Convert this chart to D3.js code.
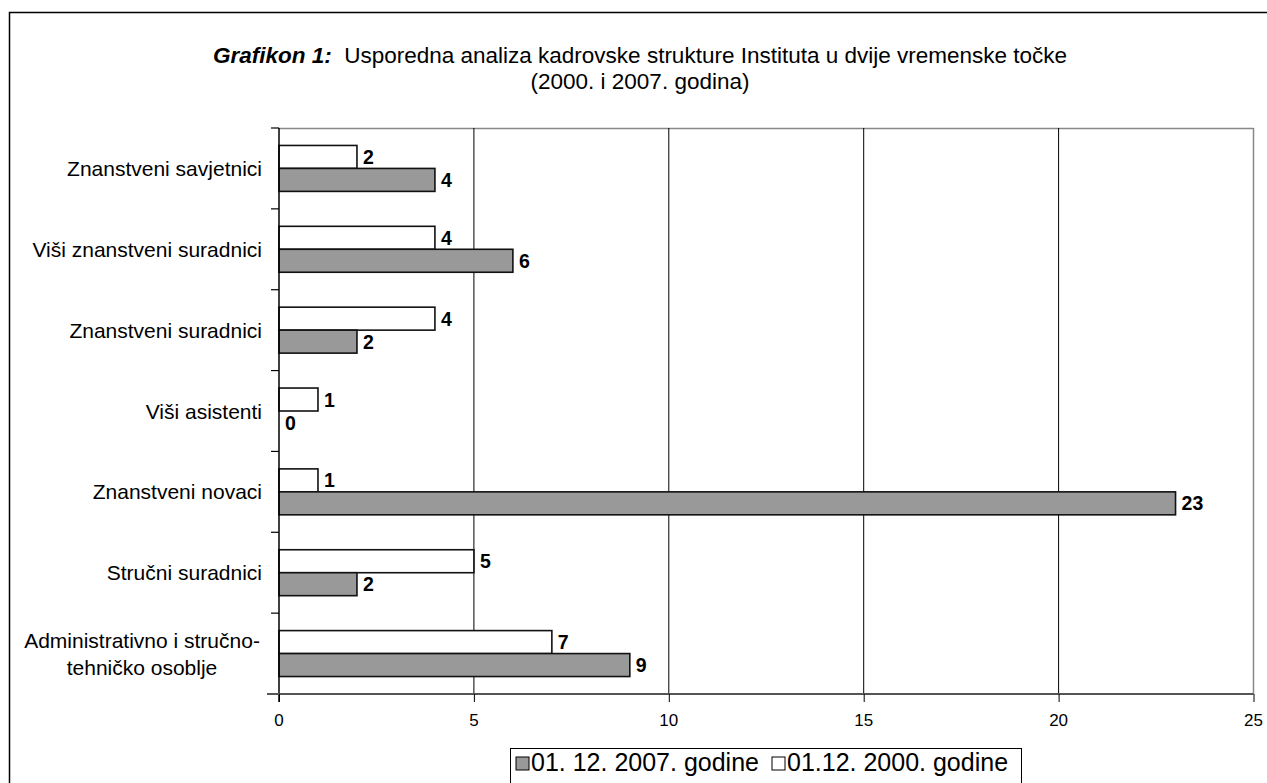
<!DOCTYPE html>
<html><head><meta charset="utf-8">
<script src="https://cdn.jsdelivr.net/npm/d3@7"></script>
<style>
body{margin:0;background:#fff;}
svg{display:block;font-family:"Liberation Sans",Arial,sans-serif;}
</style></head>
<body>
<svg id="chart" width="1267" height="783"></svg>
<script>
const categories = [
  ["Znanstveni savjetnici"],
  ["Viši znanstveni suradnici"],
  ["Znanstveni suradnici"],
  ["Viši asistenti"],
  ["Znanstveni novaci"],
  ["Stručni suradnici"],
  ["Administrativno i stručno-", "tehničko osoblje"]
];
const values2000 = [2, 4, 4, 1, 1, 5, 7];
const values2007 = [4, 6, 2, 0, 23, 2, 9];
const xTicks = [0, 5, 10, 15, 20, 25];
const seriesNames = ["01. 12. 2007. godine", "01.12. 2000. godine"];
const titleBold = "Grafikon 1:";
const titleRest = "  Usporedna analiza kadrovske strukture Instituta u dvije vremenske točke";
const titleLine2 = "(2000. i 2007. godina)";

const svg = d3.select("#chart");
const plot = {left: 279, right: 1253.5, top: 128, bottom: 694};

// outer border
svg.append("rect").attr("x", 9.5).attr("y", 12.5).attr("width", 1300).attr("height", 800)
  .attr("fill", "none").attr("stroke", "#000").attr("stroke-width", 1.5);

// title
const t1 = svg.append("text").attr("x", 640).attr("y", 63).attr("text-anchor", "middle")
  .attr("font-size", 22.5).attr("fill", "#000").attr("xml:space", "preserve");
t1.append("tspan").attr("font-weight", "bold").attr("font-style", "italic").text(titleBold);
t1.append("tspan").text(titleRest);
svg.append("text").attr("x", 640).attr("y", 89).attr("text-anchor", "middle")
  .attr("font-size", 22.5).text(titleLine2);

const x = d3.scaleLinear().domain([0, 25]).range([plot.left, plot.right]);
const y = d3.scaleBand().domain(d3.range(categories.length)).range([plot.top, plot.bottom]).padding(0);
const inner = d3.scaleBand().domain(["2000", "2007"]).range([0, y.step()]).paddingInner(0).paddingOuter(0.76);

// plot border top/right grey
svg.append("line").attr("x1", plot.left).attr("x2", plot.right).attr("y1", plot.top + 0.5).attr("y2", plot.top + 0.5)
  .attr("stroke", "#888").attr("stroke-width", 1.5);
svg.append("line").attr("x1", plot.right).attr("x2", plot.right).attr("y1", plot.top).attr("y2", plot.bottom)
  .attr("stroke", "#888").attr("stroke-width", 1.5);

// gridlines
svg.append("g").selectAll("line").data(xTicks.filter(d => d > 0 && d < 25)).join("line")
  .attr("x1", d => x(d)).attr("x2", d => x(d)).attr("y1", plot.top).attr("y2", plot.bottom)
  .attr("stroke", "#000").attr("stroke-width", 1);

// bars
const g = svg.append("g");
categories.forEach((c, i) => {
  const y0 = y(i);
  const bars = [
    {k: "2000", v: values2000[i], fill: "#fff"},
    {k: "2007", v: values2007[i], fill: "#999999"}
  ];
  bars.forEach(b => {
    const by = y0 + inner(b.k);
    if (b.v > 0) {
      g.append("rect").attr("x", x(0)).attr("y", by).attr("width", x(b.v) - x(0)).attr("height", inner.bandwidth())
        .attr("fill", b.fill).attr("stroke", "#111").attr("stroke-width", 1.6);
    }
    g.append("text").attr("x", x(b.v) + 6).attr("y", by + inner.bandwidth() / 2)
      .attr("dy", "0.36em").attr("font-size", 19.5).attr("font-weight", "bold").text(b.v);
  });
});

// left axis
const yAxis = svg.append("g");
yAxis.append("line").attr("x1", plot.left).attr("x2", plot.left).attr("y1", plot.top).attr("y2", plot.bottom + 8)
  .attr("stroke", "#000").attr("stroke-width", 1.5);
yAxis.selectAll("line.tk").data(d3.range(categories.length + 1)).join("line").attr("class", "tk")
  .attr("x1", plot.left - 8).attr("x2", plot.left)
  .attr("y1", d => plot.top + d * y.step()).attr("y2", d => plot.top + d * y.step())
  .attr("stroke", "#000").attr("stroke-width", 1.2);
categories.forEach((c, i) => {
  const cy = y(i) + y.step() / 2;
  const lh = 27;
  const txt = yAxis.append("text").attr("text-anchor", "middle").attr("font-size", 21);
  c.forEach((line, j) => {
    const ty = cy + (j - (c.length - 1) / 2) * lh;
    if (c.length > 1) {
      txt.append("tspan").attr("x", 142).attr("y", ty).attr("dy", "0.36em").text(line);
    } else {
      txt.append("tspan").attr("x", 262).attr("y", ty).attr("dy", "0.36em").attr("text-anchor", "end").text(line);
    }
  });
});

// bottom axis (ticks via d3 axis, labels drawn explicitly)
const xAxis = d3.axisBottom(x).tickValues(xTicks).tickSize(8).tickFormat(() => "");
const xg = svg.append("g").attr("transform", `translate(0,${plot.bottom})`).call(xAxis);
xg.select(".domain").attr("stroke", "#555").attr("stroke-width", 2.2).attr("d", `M${plot.left - 12},0H${plot.right}`);
xg.selectAll(".tick line").attr("stroke", "#000");
svg.append("g").selectAll("text").data(xTicks).join("text")
  .attr("x", d => x(d)).attr("y", plot.bottom + 32).attr("text-anchor", "middle")
  .attr("font-size", 17).attr("fill", "#000").text(d => d);

// legend
const lg = svg.append("g");
lg.append("rect").attr("x", 510.5).attr("y", 748.5).attr("width", 511).attr("height", 50)
  .attr("fill", "#fff").attr("stroke", "#000").attr("stroke-width", 1);
const legendItems = [
  {name: seriesNames[0], fill: "#999999", x: 516},
  {name: seriesNames[1], fill: "#fff", x: 772}
];
legendItems.forEach(it => {
  lg.append("rect").attr("x", it.x).attr("y", 757).attr("width", 13).attr("height", 13)
    .attr("fill", it.fill).attr("stroke", "#000").attr("stroke-width", 1);
  lg.append("text").attr("x", it.x + 15).attr("y", 771).attr("font-size", 25).text(it.name);
});
</script>
</body></html>
